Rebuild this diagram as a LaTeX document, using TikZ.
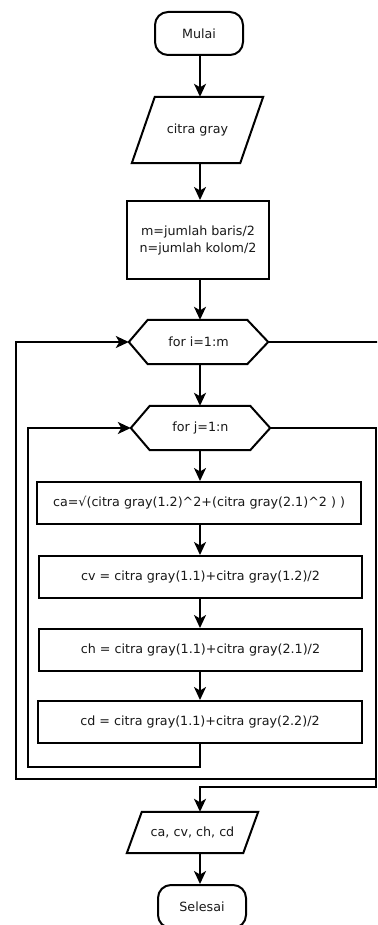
\documentclass[tikz,border=0pt]{standalone}
\usepackage{fontspec}
\setmainfont{DejaVu Sans}
\usetikzlibrary{arrows.meta,calc}
\begin{document}
\begin{tikzpicture}[x=1pt,y=-1pt,
  every node/.style={font=\fontsize{12.7}{17}\selectfont, text=black!90, inner sep=0pt},
  ln/.style={line width=2pt, black},
  arr/.style={ln, -{Stealth[length=13pt,width=12pt,inset=3.5pt]}},
  term/.style={draw, line width=2pt, rounded corners=13pt, minimum width=88pt, minimum height=43pt},
  procbox/.style={draw, line width=2pt, minimum height=42pt}]
\useasboundingbox (0,0) rectangle (377,925);
\clip (0,0) rectangle (377,925);
\fill[white] (0,0) rectangle (377,925);

% nodes
\node[term] (mulai) at (199,33.5) {Mulai};
\node[minimum width=131pt, minimum height=66pt] (cg) at (197.5,130) {citra gray};
\draw[ln] ([xshift=23pt]cg.north west) -- (cg.north east) -- ([xshift=-23pt]cg.south east) -- (cg.south west) -- cycle;
\node[procbox, minimum width=142pt, minimum height=78pt, align=center] (mn) at (198,240) {m=jumlah baris/2\\n=jumlah kolom/2};
\node[minimum width=139pt, minimum height=44pt] (fi) at (198.5,342) {for i=1:m};
\draw[ln] (fi.west) -- ([xshift=19pt]fi.north west) -- ([xshift=-21pt]fi.north east) -- (fi.east) -- ([xshift=-21pt]fi.south east) -- ([xshift=19pt]fi.south west) -- cycle;
\node[minimum width=139pt, minimum height=44pt] (fj) at (200.5,428) {for j=1:n};
\draw[ln] (fj.west) -- ([xshift=19pt]fj.north west) -- ([xshift=-20pt]fj.north east) -- (fj.east) -- ([xshift=-20pt]fj.south east) -- ([xshift=19pt]fj.south west) -- cycle;
\node[procbox, minimum width=324pt] (ca) at (199,503) {ca=√(citra gray(1.2)\^{}2+(citra gray(2.1)\^{}2 ) )};
\node[procbox, minimum width=323pt] (cv) at (200.5,577) {cv = citra gray(1.1)+citra gray(1.2)/2};
\node[procbox, minimum width=323pt] (ch) at (200.5,650) {ch = citra gray(1.1)+citra gray(2.1)/2};
\node[procbox, minimum width=324pt] (cd) at (200,722) {cd = citra gray(1.1)+citra gray(2.2)/2};
\node[minimum width=131pt, minimum height=41pt] (out) at (192.5,832.5) {ca, cv, ch, cd};
\draw[ln] ([xshift=15pt]out.north west) -- (out.north east) -- ([xshift=-15pt]out.south east) -- (out.south west) -- cycle;
\node[term] (sel) at (202,906.5) {Selesai};

% coordinates
\coordinate (ax) at (200,0);
\coordinate (rtop) at (379,342);
\coordinate (r1) at (376,428);
\coordinate (r2) at (376,779);
\coordinate (l2) at (16,779);
\coordinate (r3) at (376,787);
\coordinate (m3) at (200,787);
\coordinate (in1) at (200,767);
\coordinate (in2) at (28,767);

% straight arrows
\draw[arr] (mulai.south -| ax) -- (cg.north -| ax);
\draw[arr] (cg.south -| ax) -- (mn.north -| ax);
\draw[arr] (mn.south -| ax) -- (fi.north -| ax);
\draw[arr] (fi.south -| ax) -- (fj.north -| ax);
\draw[arr] (fj.south -| ax) -- (ca.north -| ax);
\draw[arr] (ca.south -| ax) -- (cv.north -| ax);
\draw[arr] (cv.south -| ax) -- (ch.north -| ax);
\draw[arr] (ch.south -| ax) -- (cd.north -| ax);
\draw[arr] (out.south -| ax) -- (sel.north -| ax);

% loops
\draw[ln] (fi.east) -- (rtop);
\draw[arr] (fj.east) -- (r1) -- (r2) -- (l2) |- (fi.west);
\draw[arr] (r2) -- (r3) -- (m3) -- (m3 |- out.north);
\draw[arr] (cd.south -| in1) -- (in1) -- (in2) |- (fj.west);
\end{tikzpicture}
\end{document}
